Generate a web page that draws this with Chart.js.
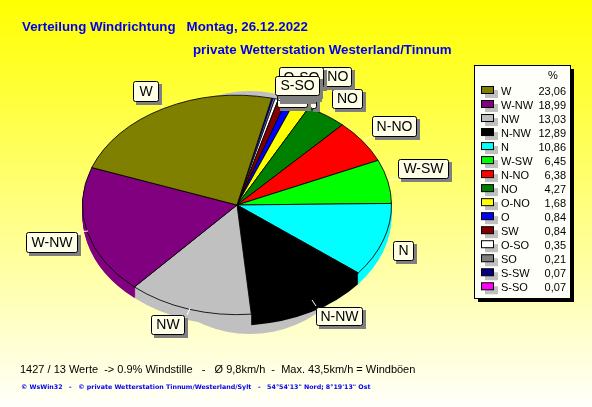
<!DOCTYPE html>
<html><head><meta charset="utf-8">
<style>html,body{margin:0;padding:0;width:592px;height:407px;overflow:hidden;background:linear-gradient(#ffff00,#fffffa)}canvas{display:block}</style>
<script src="https://cdn.jsdelivr.net/npm/chart.js@4"></script>
</head><body><canvas id="c" width="592" height="407"></canvas>
<script>
const categories=["W","W-NW","NW","N-NW","N","W-SW","N-NO","NO","O-NO","O","SW","O-SO","SO","S-SW","S-SO"];
const shares=[23.06,18.99,13.03,12.89,10.86,6.45,6.38,4.27,1.68,0.84,0.84,0.35,0.21,0.07,0.07];
const colours=["#808000","#800080","#c0c0c0","#000000","#00ffff","#00ff00","#ff0000","#008000","#ffff00","#0000ff","#800000","#ffffff","#808080","#000080","#ff00ff"];
const titleLine1="Verteilung Windrichtung   Montag, 26.12.2022";
const titleLine2="private Wetterstation Westerland/Tinnum";
const footLine="1427 / 13 Werte  -> 0.9% Windstille   -   Ø 9,8km/h  -  Max. 43,5km/h = Windböen";
const creditLine="© WsWin32   -   © private Wetterstation Tinnum/Westerland/Sylt   -   54°54'13\" Nord; 8°19'13\" Ost";

const FONT='"Liberation Sans", Arial, sans-serif';
const SQUASH=110/155, DEPTH=11;
// label callout layout: box left, top, right, bottom; optional white leader line
const calloutLayout={
 "W":{b:[133,81,158,101],l:[160,103,163,108]},
 "W-NW":{b:[26,232,77,252],l:[77,232,88,231]},
 "NW":{b:[151,315,184,334],l:[187,315,190,308]},
 "N-NW":{b:[316,307,362,325],l:[312,300,316,306]},
 "N":{b:[393,241,413,260]},
 "W-SW":{b:[398,159,448,178],l:[388,180,398,179]},
 "N-NO":{b:[372,116,416,136],l:[364,140,372,136]},
 "NO":{b:[332,89,362,108],l:[328,113,333,108]},
 "O-NO":{b:[308,67,351,86]},
 "O":{b:[310,89,316,108],hide:true},
 "SW":{b:[277,88,307,107],hide:true},
 "O-SO":{b:[279,67,323,87]},
 "SO":{b:[277,80,312,100],hide:true},
 "S-SW":{b:[277,78,318,98],hide:true},
 "S-SO":{b:[275,76,319,95]}
};
function box(ctx,x0,y0,x1,y1){
  ctx.fillStyle='#808080';ctx.fillRect(x0+3,y0+3,x1-x0+1,y1-y0+1);
  ctx.fillStyle='#ffffe8';ctx.strokeStyle='#000';ctx.lineWidth=1;
  ctx.beginPath();ctx.roundRect(x0+.5,y0+.5,x1-x0,y1-y0,2);ctx.fill();ctx.stroke();
}
const pieStyle={
 id:'pieStyle',
 beforeDatasetsDraw(chart){
  const ctx=chart.ctx,arcs=chart.getDatasetMeta(0).data,cy=arcs[0].y;
  ctx.save();
  ctx.fillStyle='#c0c0c0';ctx.beginPath();ctx.ellipse(250,212.5,120,121.5,0,0,Math.PI*2);ctx.fill();
  ctx.restore();
  ctx.save();
  ctx.translate(0,cy);ctx.scale(1,SQUASH);ctx.translate(0,-cy);
  for(let d=DEPTH;d>0;d--){
    ctx.save();ctx.translate(0,d/SQUASH);
    arcs.forEach(a=>{const o=a.options;a.options=Object.assign({},o,{borderWidth:0});a.draw(ctx);a.options=o;});
    ctx.restore();
  }
 },
 afterDatasetsDraw(chart){
  const ctx=chart.ctx;
  ctx.restore();
  // callouts
  categories.forEach(name=>{
    const c=calloutLayout[name];
    if(c.l){ctx.strokeStyle='#fff';ctx.lineWidth=1;ctx.beginPath();ctx.moveTo(c.l[0],c.l[1]);ctx.lineTo(c.l[2],c.l[3]);ctx.stroke();}
  });
  categories.forEach(name=>{
    const c=calloutLayout[name],b=c.b;
    box(ctx,b[0],b[1],b[2],b[3]);
    ctx.font='14px '+FONT;ctx.fillStyle='#000';ctx.textAlign='center';ctx.textBaseline='middle';
    if(!c.hide)ctx.fillText(name,(b[0]+b[2])/2+.5,(b[1]+b[3])/2+1);
  });
  // legend
  ctx.fillStyle='#000';ctx.fillRect(478,69,96,233);
  ctx.fillStyle='#fffffa';ctx.strokeStyle='#000';ctx.fillRect(474.5,65.5,96,233);ctx.strokeRect(474.5,65.5,96,233);
  ctx.font='11px '+FONT;ctx.fillStyle='#000';ctx.textBaseline='alphabetic';ctx.textAlign='center';
  ctx.fillText('%',553,79);
  categories.forEach((name,i)=>{
    const y=91+i*14.02;
    ctx.fillStyle='#c0c0c0';ctx.fillRect(485,y-1,13,8);
    ctx.fillStyle=colours[i];ctx.fillRect(481.5,y-4.5,12,7);
    ctx.strokeStyle='#000';ctx.strokeRect(481.5,y-4.5,12,7);
    ctx.fillStyle='#000';ctx.textAlign='left';ctx.fillText(name,501,y+4);
    ctx.textAlign='right';ctx.fillText(shares[i].toFixed(2).replace('.',','),566,y+4);
  });
  // titles
  ctx.textAlign='left';ctx.fillStyle='#0000f0';ctx.font='bold 13.3px '+FONT;
  ctx.fillText(titleLine1,22,31);ctx.fillText(titleLine2,193,54);
  ctx.fillStyle='#000';ctx.font='11px '+FONT;ctx.fillText(footLine,20,373);
  ctx.fillStyle='#0000f0';ctx.font='bold 6.3px "DejaVu Sans"';ctx.fillText(creditLine,21,389);
 }
};
new Chart(document.getElementById('c'),{
 type:'pie',
 data:{labels:[...categories].reverse(),datasets:[{data:[...shares].reverse(),backgroundColor:[...colours].reverse(),
   borderColor:[...shares].reverse().map(s=>s<0.3?'#000080':'#000'),borderWidth:1}]},
 options:{responsive:false,animation:false,rotation:13,
  layout:{padding:{left:82,right:200,top:50,bottom:47}},
  plugins:{legend:{display:false},tooltip:{enabled:false},title:{display:false}}},
 plugins:[pieStyle]
});
</script></body></html>
